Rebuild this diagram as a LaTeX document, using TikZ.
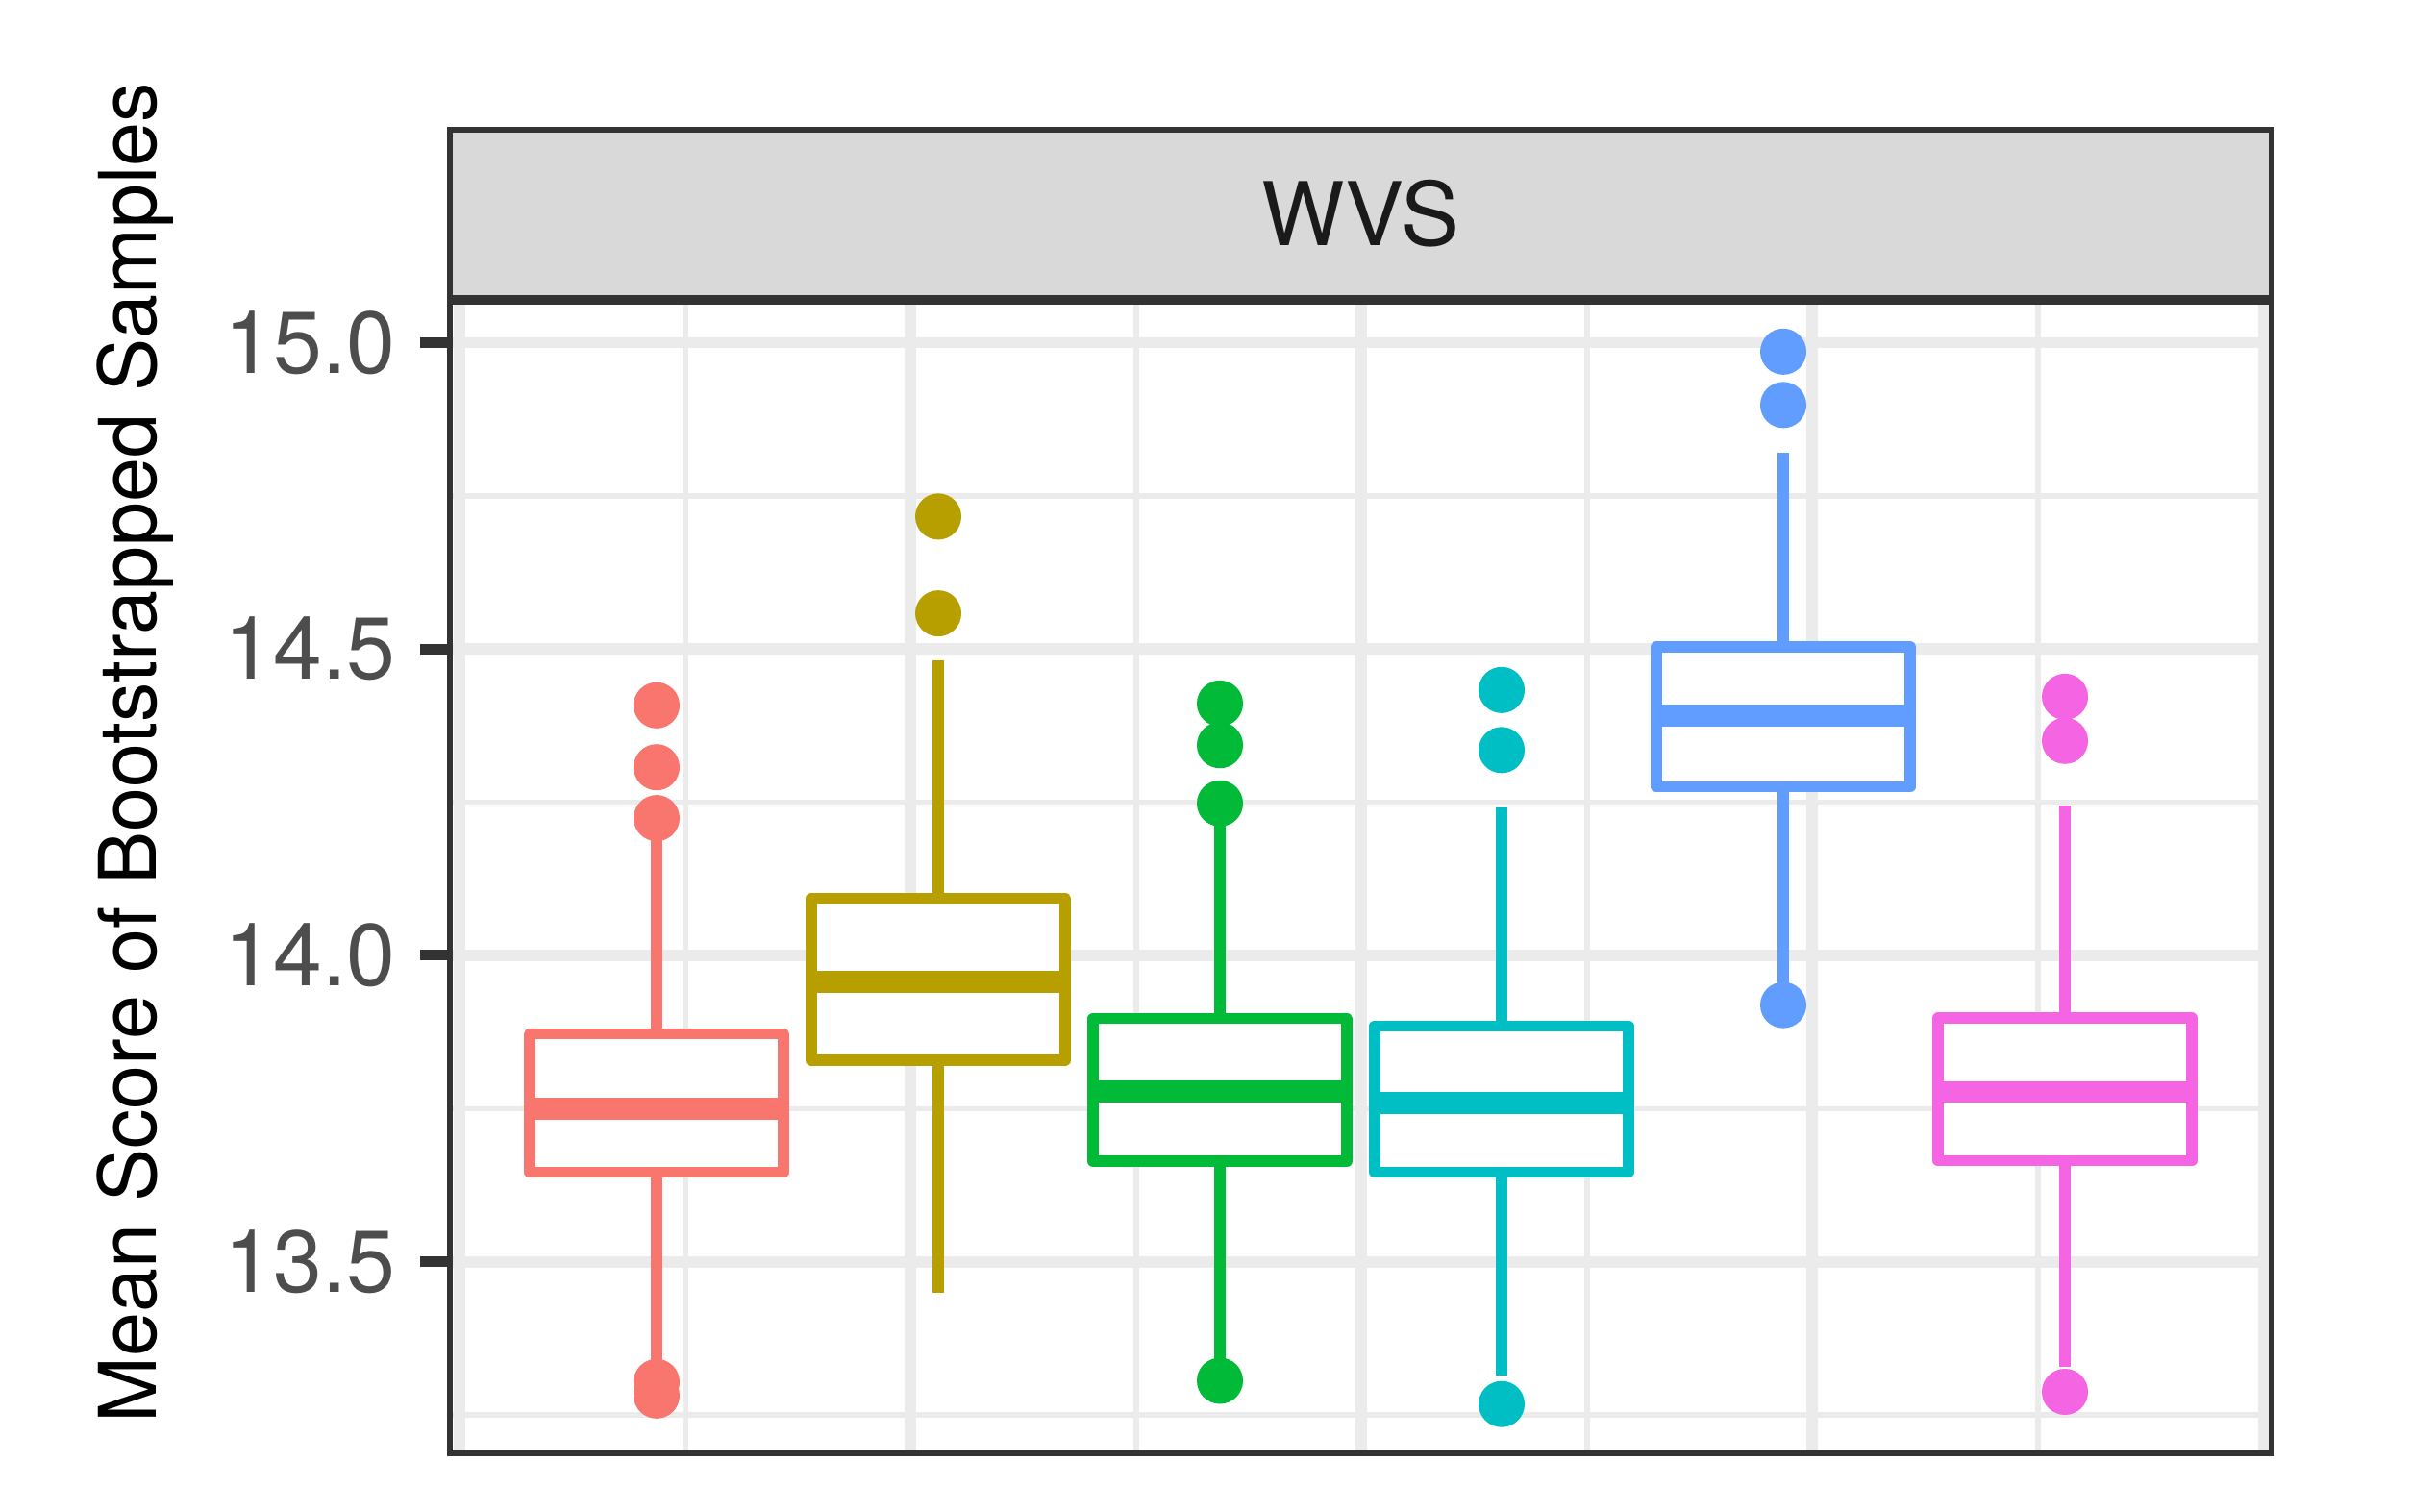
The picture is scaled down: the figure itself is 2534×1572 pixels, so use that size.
\documentclass[tikz,border=0pt]{standalone}
\usepackage{fontspec}
\setmainfont{TeX Gyre Heros}

\definecolor{gridgray}{HTML}{EBEBEB}
\definecolor{framegray}{HTML}{333333}
\definecolor{stripgray}{HTML}{D9D9D9}
\definecolor{labelgray}{HTML}{4D4D4D}
\definecolor{stripdark}{HTML}{1A1A1A}
\definecolor{hueA}{HTML}{F8766D}
\definecolor{hueB}{HTML}{B79F00}
\definecolor{hueC}{HTML}{00BA38}
\definecolor{hueD}{HTML}{00BFC4}
\definecolor{hueE}{HTML}{619CFF}
\definecolor{hueF}{HTML}{F564E3}

\tikzset{
    majorgrid/.style={draw=gridgray, line width=0.115cm},
    minorgrid/.style={draw=gridgray, line width=0.057cm},
    frame/.style={draw=framegray, line width=0.055cm},
    axistick/.style={draw=framegray, line width=0.11cm},
    whisker/.style={line width=0.115cm},
    boxline/.style={line width=0.115cm, line join=round, fill=white},
    medianline/.style={line width=0.225cm},
    ticklabel/.style={anchor=east, inner sep=0pt, text=labelgray, font=\fontsize{26}{30}\selectfont}
}

\begin{document}
\begin{tikzpicture}[x=0.01cm, y=0.01cm]
                    \useasboundingbox (0,0) rectangle (2534,1572);

                    % grid, clipped to the panel
                    \begin{scope}
                        \clip (468,60) rectangle (2363,1257.3);
                        \draw[minorgrid] (713,60) -- (713,1258) (1182,60) -- (1182,1258)
                                         (1651,60) -- (1651,1258) (2120,60) -- (2120,1258);
                        \begin{scope}[y=6.373cm, yshift=-83.445cm]
                            \draw[minorgrid] (468,13.25) -- (2363,13.25) (468,13.75) -- (2363,13.75)
                                             (468,14.25) -- (2363,14.25) (468,14.75) -- (2363,14.75);
                            \draw[majorgrid] (468,13.5) -- (2363,13.5) (468,14.0) -- (2363,14.0)
                                             (468,14.5) -- (2363,14.5) (468,15.0) -- (2363,15.0);
                        \end{scope}
                        \draw[majorgrid] (478,60) -- (478,1258) (947,60) -- (947,1258)
                                         (1416,60) -- (1416,1258) (1885,60) -- (1885,1258)
                                         (2355,60) -- (2355,1258);
                    \end{scope}

                    \begin{scope}[y=6.373cm, yshift=-83.445cm]
                        % first box
                        \draw[whisker, hueA] (683,13.33) -- (683,14.20);
                        \draw[hueA, boxline] (551,13.646) rectangle (815,13.872);
                        \draw[medianline, hueA] (551,13.75) -- (815,13.75);
                        \fill[hueA] (683,14.408) circle[radius=0.24cm] (683,14.307) circle[radius=0.24cm]
                                    (683,14.224) circle[radius=0.24cm] (683,13.304) circle[radius=0.24cm]
                                    (683,13.282) circle[radius=0.24cm];

                        % second box
                        \draw[whisker, hueB] (976,13.449) -- (976,14.482);
                        \draw[hueB, boxline] (844,13.829) rectangle (1108,14.093);
                        \draw[medianline, hueB] (844,13.957) -- (1108,13.957);
                        \fill[hueB] (976,14.716) circle[radius=0.24cm] (976,14.558) circle[radius=0.24cm];

                        % third box
                        \draw[whisker, hueC] (1269,13.33) -- (1269,14.22);
                        \draw[hueC, boxline] (1137,13.664) rectangle (1401,13.897);
                        \draw[medianline, hueC] (1137,13.778) -- (1401,13.778);
                        \fill[hueC] (1269,14.411) circle[radius=0.24cm] (1269,14.343) circle[radius=0.24cm]
                                    (1269,14.248) circle[radius=0.24cm] (1269,13.306) circle[radius=0.24cm];

                        % fourth box
                        \draw[whisker, hueD] (1562,13.314) -- (1562,14.241);
                        \draw[hueD, boxline] (1430,13.646) rectangle (1694,13.885);
                        \draw[medianline, hueD] (1430,13.759) -- (1694,13.759);
                        \fill[hueD] (1562,14.433) circle[radius=0.24cm] (1562,14.335) circle[radius=0.24cm]
                                    (1562,13.268) circle[radius=0.24cm];

                        % fifth box
                        \draw[whisker, hueE] (1855,13.94) -- (1855,14.820);
                        \draw[hueE, boxline] (1723,14.275) rectangle (1987,14.503);
                        \draw[medianline, hueE] (1723,14.391) -- (1987,14.391);
                        \fill[hueE] (1855,14.985) circle[radius=0.24cm] (1855,14.898) circle[radius=0.24cm]
                                    (1855,13.919) circle[radius=0.24cm];

                        % sixth box
                        \draw[whisker, hueF] (2148,13.329) -- (2148,14.244);
                        \draw[hueF, boxline] (2016,13.665) rectangle (2280,13.898);
                        \draw[medianline, hueF] (2016,13.777) -- (2280,13.777);
                        \fill[hueF] (2148,14.422) circle[radius=0.24cm] (2148,14.350) circle[radius=0.24cm]
                                    (2148,13.288) circle[radius=0.24cm];

                        % y axis
                        \draw[axistick] (437,13.5) -- (468,13.5) (437,14.0) -- (468,14.0)
                                        (437,14.5) -- (468,14.5) (437,15.0) -- (468,15.0);
                        \node[ticklabel] (t135) at (412,13.5) {13.5};
                        \node[ticklabel] (t140) at (412,14.0) {14.0};
                        \node[ticklabel] (t145) at (412,14.5) {14.5};
                        \node[ticklabel] (t150) at (412,15.0) {15.0};
                    \end{scope}

                    % panel and strip
                    \draw[frame] (468,60) rectangle (2363,1257.3);
                    \draw[frame, fill=stripgray] (468,1262.5) rectangle (2363,1437);
                    \node[inner sep=0pt, text=stripdark, font=\fontsize{26}{30}\selectfont] (wvs) at (1415.5,1349.75) {WVS};

                    \node[rotate=90, anchor=base, inner sep=0pt, font=\fontsize{23.5}{28}\selectfont] (ytitle) at (162.7,789) {Mean Score of Bootstrapped Samples};
                \end{tikzpicture}
\end{document}
